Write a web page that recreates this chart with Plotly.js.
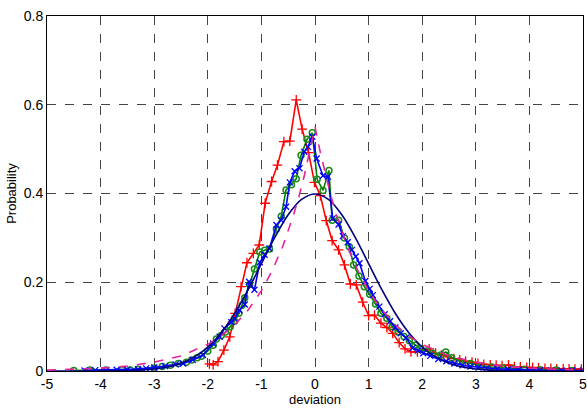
<!DOCTYPE html>
<html>
<head>
<meta charset="utf-8">
<script src="https://cdn.plot.ly/plotly-3.0.1.min.js"></script>
<style>html,body{margin:0;padding:0;background:#fff;}#chart{width:587px;height:410px;}</style>
</head>
<body>
<div id="chart"></div>
<script>
// Red series (+ markers)
var redX = [-1.97,-1.90,-1.81,-1.70,-1.59,-1.49,-1.38,-1.27,-1.15,-1.04,-0.93,-0.81,-0.70,-0.58,-0.47,-0.35,-0.24,-0.12,-0.01,0.10,0.21,0.32,0.44,0.55,0.66,0.77,0.89,1.00,1.11,1.23,1.34,1.45,1.57,1.68,1.79,1.91,2.02,2.13,2.25,2.36,2.47,2.59,2.70,2.81,2.93,3.04,3.15,3.27,3.38,3.49,3.61,3.72,3.83,3.95,4.06,4.17,4.29,4.40,4.51,4.63,4.74,4.85,4.97];
var redY = [0.016,0.014,0.021,0.047,0.077,0.130,0.190,0.244,0.265,0.284,0.378,0.427,0.464,0.517,0.518,0.611,0.545,0.492,0.425,0.395,0.339,0.294,0.273,0.239,0.196,0.194,0.155,0.125,0.126,0.108,0.098,0.085,0.064,0.050,0.043,0.043,0.047,0.050,0.040,0.036,0.032,0.028,0.025,0.022,0.020,0.017,0.015,0.014,0.013,0.012,0.014,0.010,0.009,0.008,0.008,0.007,0.006,0.006,0.005,0.005,0.005,0.004,0.004];

// Green series (o markers)
var greenX = [-4.5,-4.2,-3.9,-3.6,-3.45,-3.3,-3.0,-2.85,-2.7,-2.55,-2.4,-2.3,-2.2,-2.12,-2.0,-1.9,-1.84,-1.75,-1.67,-1.58,-1.50,-1.42,-1.36,-1.31,-1.22,-1.13,-1.03,-0.94,-0.85,-0.72,-0.63,-0.54,-0.44,-0.35,-0.26,-0.15,-0.05,0.04,0.15,0.26,0.32,0.44,0.55,0.64,0.72,0.82,0.92,1.02,1.13,1.23,1.34,1.44,1.55,1.66,1.76,1.87,1.97,2.08,2.2,2.35,2.44,2.55,2.7,2.9,3.1,3.3,3.5,3.7,3.9,4.2,4.5,4.8];
var greenY = [0.001,0.002,0.002,0.003,0.002,0.004,0.007,0.010,0.013,0.017,0.020,0.025,0.030,0.033,0.045,0.058,0.072,0.080,0.088,0.100,0.112,0.130,0.148,0.165,0.195,0.230,0.268,0.272,0.275,0.320,0.349,0.408,0.420,0.433,0.486,0.522,0.537,0.432,0.407,0.452,0.340,0.340,0.300,0.280,0.239,0.214,0.190,0.173,0.151,0.130,0.119,0.100,0.088,0.078,0.068,0.058,0.050,0.045,0.040,0.036,0.043,0.030,0.022,0.017,0.012,0.009,0.007,0.005,0.004,0.003,0.002,0.001];

// Blue series (* markers)
var blueX = [-4.3,-4.1,-3.9,-3.7,-3.5,-3.3,-3.15,-3.0,-2.8,-2.6,-2.46,-2.28,-2.09,-1.90,-1.78,-1.69,-1.56,-1.50,-1.41,-1.31,-1.23,-1.13,-1.03,-0.94,-0.85,-0.72,-0.63,-0.54,-0.47,-0.38,-0.29,-0.20,-0.13,-0.05,0.03,0.15,0.24,0.33,0.44,0.52,0.61,0.69,0.76,0.83,0.94,1.02,1.08,1.20,1.30,1.40,1.50,1.60,1.70,1.82,1.92,2.02,2.15,2.3,2.45,2.6,2.75,2.9,3.05,3.2,3.4,3.6,3.8,4.0,4.2,4.4,4.6,4.8,5.0];
var blueY = [0.001,0.002,0.002,0.003,0.003,0.004,0.006,0.008,0.011,0.015,0.017,0.025,0.036,0.062,0.077,0.096,0.110,0.118,0.137,0.150,0.201,0.183,0.245,0.262,0.276,0.329,0.340,0.370,0.425,0.450,0.457,0.494,0.505,0.528,0.479,0.440,0.438,0.344,0.330,0.304,0.290,0.273,0.258,0.243,0.203,0.185,0.171,0.145,0.128,0.112,0.098,0.085,0.075,0.052,0.046,0.040,0.034,0.027,0.022,0.017,0.013,0.010,0.008,0.006,0.005,0.004,0.003,0.002,0.002,0.001,0.001,0.001,0.001];

// Navy solid reference curve
var navyX = [-5,-4.5,-4,-3.75,-3.5,-3.25,-3,-2.75,-2.5,-2.25,-2,-1.75,-1.5,-1.25,-1,-0.75,-0.5,-0.25,0,0.25,0.5,0.75,1,1.25,1.5,1.75,2,2.25,2.5,2.75,3,3.25,3.5,3.75,4,4.5,5];
var navyY = [0.0000,0.0000,0.0001,0.0004,0.0009,0.0020,0.0044,0.0091,0.0175,0.0317,0.0540,0.0863,0.1295,0.1826,0.2420,0.3011,0.3521,0.3867,0.3989,0.3867,0.3521,0.3011,0.2420,0.1826,0.1295,0.0863,0.0540,0.0317,0.0175,0.0091,0.0044,0.0020,0.0009,0.0004,0.0001,0.0000,0.0000];

// Magenta dashed reference curve
var magX = [-5,-4.5,-4,-3.5,-3,-2.5,-2,-1.75,-1.5,-1.25,-1,-0.8,-0.6,-0.4,-0.3,-0.2,-0.1,0,0.1,0.2,0.3,0.4,0.6,0.8,1,1.25,1.5,1.75,2,2.5,3,3.5,4,4.5,5];
var magY = [0.002,0.004,0.0065,0.011,0.020,0.034,0.060,0.079,0.104,0.137,0.181,0.226,0.281,0.352,0.393,0.440,0.492,0.550,0.492,0.440,0.393,0.352,0.281,0.226,0.181,0.137,0.104,0.079,0.060,0.034,0.020,0.011,0.0065,0.004,0.002];

var traces = [
  {x: redX, y: redY, mode: 'lines+markers', line: {color: '#ff0000', width: 1.6},
   marker: {symbol: 'cross-thin-open', size: 7, color: '#ff0000', line: {color: '#ff0000', width: 1.3}}},
  {x: greenX, y: greenY, mode: 'lines+markers', line: {color: '#008000', width: 1.6},
   marker: {symbol: 'circle-open', size: 6, color: '#1a8a1a', line: {color: '#1a8a1a', width: 1.5}}},
  {x: blueX, y: blueY, mode: 'lines+markers', line: {color: '#0000ff', width: 1.6},
   marker: {symbol: 'x-thin-open', size: 6, color: '#0000ff', line: {color: '#0000ff', width: 1.3}}},
  {x: navyX, y: navyY, mode: 'lines', line: {color: '#000080', width: 1.6, shape: 'spline'}},
  {x: magX, y: magY, mode: 'lines', line: {color: '#e6229b', width: 1.6, dash: 'dash'}}
];

var axisFont = {family: 'Liberation Sans, Arial, sans-serif', size: 14, color: '#000'};
var titleFont = {family: 'Liberation Sans, Arial, sans-serif', size: 13, color: '#000'};
var layout = {
  width: 587, height: 410,
  margin: {l: 47, r: 4, t: 16, b: 39},
  paper_bgcolor: '#fff', plot_bgcolor: '#fff',
  showlegend: false,
  font: axisFont,
  xaxis: {
    range: [-5, 5], tickvals: [-5,-4,-3,-2,-1,0,1,2,3,4,5], ticktext: ['-5','-4','-3','-2','-1','0','1','2','3','4','5'],
    ticklabeloverflow: 'allow',
    showgrid: true, gridcolor: '#444', gridwidth: 1, griddash: 'dash',
    zeroline: false, showline: true, linecolor: '#000', linewidth: 1, mirror: true,
    ticks: '', tickfont: axisFont,
    title: {text: 'deviation', font: titleFont, standoff: 1}
  },
  yaxis: {
    range: [0, 0.8], tickvals: [0, 0.2, 0.4, 0.6, 0.8], ticktext: ['0','0.2','0.4','0.6','0.8'],
    ticklabeloverflow: 'allow',
    showgrid: true, gridcolor: '#444', gridwidth: 1, griddash: 'dash',
    zeroline: false, showline: true, linecolor: '#000', linewidth: 1, mirror: true,
    ticks: '', tickfont: axisFont,
    title: {text: 'Probability', font: titleFont, standoff: 4}
  }
};

Plotly.newPlot('chart', traces, layout, {displayModeBar: false, staticPlot: true});
</script>
</body>
</html>
